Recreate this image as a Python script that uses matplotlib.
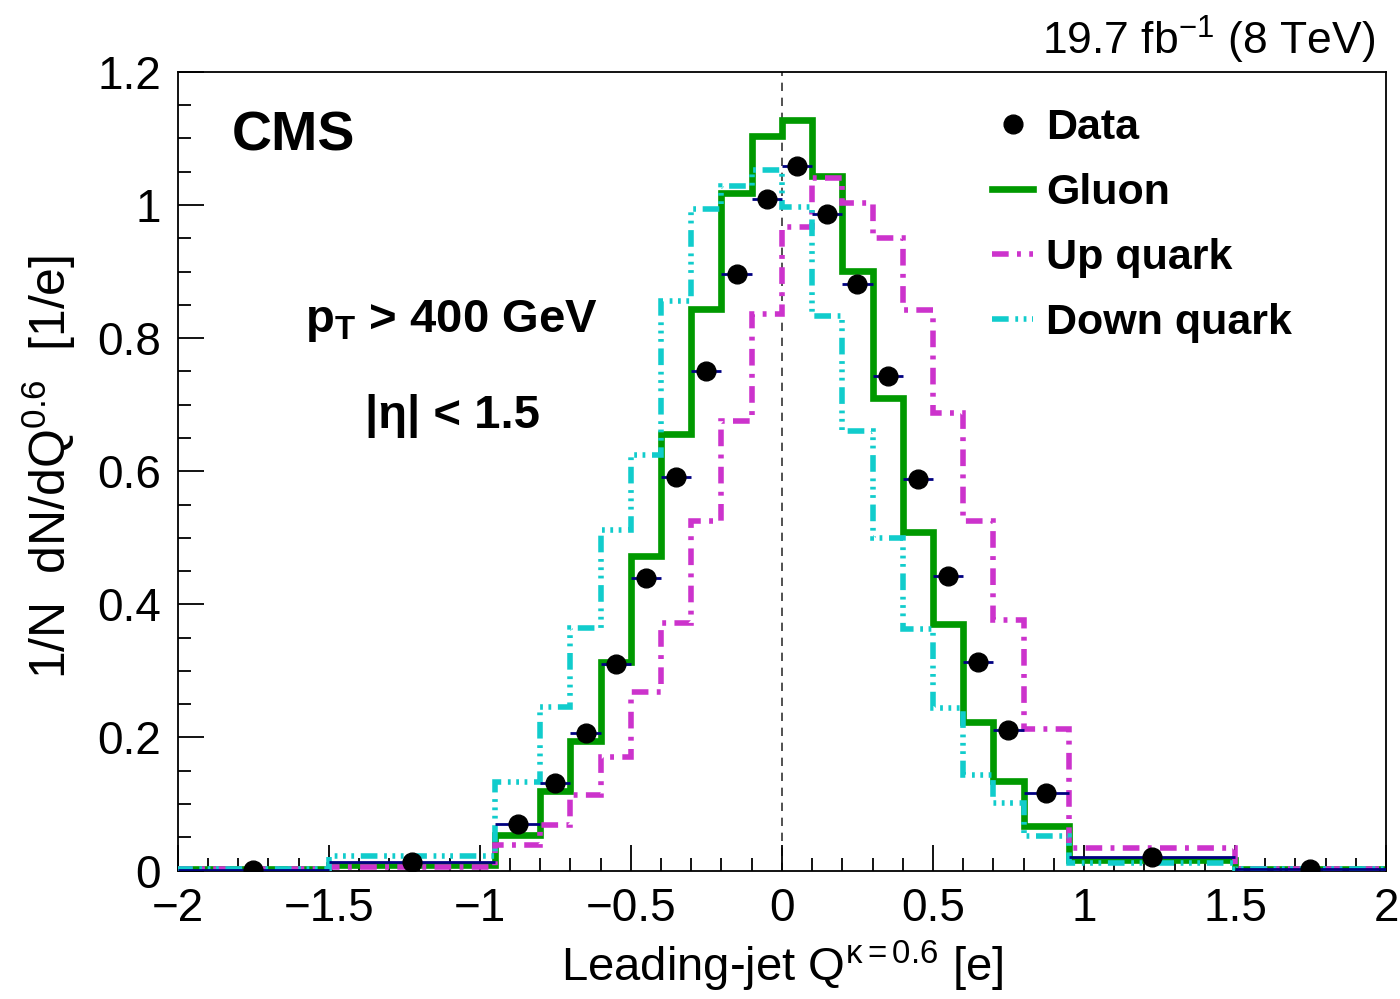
import numpy as np
import matplotlib
matplotlib.use("Agg")
import matplotlib.pyplot as plt
from matplotlib.lines import Line2D
from matplotlib.ticker import MultipleLocator

plt.rcParams['font.family'] = ['Liberation Sans', 'DejaVu Sans']
plt.rcParams['mathtext.fontset'] = 'custom'
plt.rcParams['mathtext.rm'] = 'Liberation Sans'
plt.rcParams['mathtext.it'] = 'Liberation Sans'
plt.rcParams['mathtext.bf'] = 'Liberation Sans:bold'

# bin edges (variable width)
edges = [-2, -1.5, -0.95, -0.8, -0.7, -0.6, -0.5, -0.4, -0.3, -0.2, -0.1, 0.0,
         0.1, 0.2, 0.3, 0.4, 0.5, 0.6, 0.7, 0.8, 0.95, 1.5, 2]

gluon = [0.002, 0.008, 0.054, 0.119, 0.194, 0.313, 0.473, 0.656, 0.844, 1.018, 1.104,
         1.128, 1.043, 0.901, 0.710, 0.508, 0.371, 0.223, 0.135, 0.067, 0.016, 0.002]
up_quark = [0.002, 0.005, 0.038, 0.069, 0.113, 0.170, 0.268, 0.372, 0.525, 0.676, 0.836,
            0.967, 1.040, 1.003, 0.950, 0.843, 0.688, 0.525, 0.377, 0.213, 0.034, 0.002]
down_quark = [0.002, 0.022, 0.133, 0.245, 0.365, 0.512, 0.625, 0.856, 0.994, 1.028, 1.053,
              0.997, 0.834, 0.661, 0.499, 0.363, 0.244, 0.144, 0.102, 0.052, 0.011, 0.002]

data_x = [-1.75, -1.225, -0.875, -0.75, -0.65, -0.55, -0.45, -0.35, -0.25, -0.15, -0.05,
          0.05, 0.15, 0.25, 0.35, 0.45, 0.55, 0.65, 0.75, 0.875, 1.225, 1.75]
data_y = [0.001, 0.013, 0.070, 0.132, 0.207, 0.311, 0.440, 0.591, 0.751, 0.896, 1.009,
          1.059, 0.986, 0.882, 0.743, 0.589, 0.443, 0.314, 0.211, 0.117, 0.021, 0.002]

green = '#009900'
magenta = '#cc33cc'
cyan = '#11cccc'
up_style = (0, (3, 1.5, 0.7, 1.5))
down_style = (0, (3, 1.2, 0.5, 1.0, 0.5, 1.0, 0.5, 1.2))

fig = plt.figure(figsize=(14, 9.99), dpi=100)
ax = fig.add_axes([0.127, 0.1286, 0.863, 0.7994])

ax.axvline(0, color='#333333', lw=1.2, ls=(0, (5, 4)), zorder=1)

ax.stairs(gluon, edges, color=green, lw=4.8, zorder=2)
ax.stairs(up_quark, edges, color=magenta, lw=4.0, ls=up_style, zorder=3)
ax.stairs(down_quark, edges, color=cyan, lw=4.0, ls=down_style, zorder=4)

xerr = np.diff(edges) / 2
centers = (np.array(edges[:-1]) + np.array(edges[1:])) / 2
ax.errorbar(centers, data_y, xerr=xerr, fmt='none', ecolor='#000080', elinewidth=2.0, zorder=5)
ax.plot(data_x, data_y, 'o', color='black', ms=13.5, zorder=6)

ax.set_xlim(-2, 2)
ax.set_ylim(0, 1.2)
ax.xaxis.set_minor_locator(MultipleLocator(0.1))
ax.yaxis.set_minor_locator(MultipleLocator(0.05))
ax.set_yticks([0, 0.2, 0.4, 0.6, 0.8, 1.0, 1.2])
ax.set_yticklabels(['0', '0.2', '0.4', '0.6', '0.8', '1', '1.2'])
ax.set_xticks([-2, -1.5, -1, -0.5, 0, 0.5, 1, 1.5, 2])
ax.set_xticklabels(['\u22122', '\u22121.5', '\u22121', '\u22120.5', '0', '0.5', '1', '1.5', '2'])
ax.tick_params(which='major', direction='in', length=19, width=1.3, labelsize=33)
ax.tick_params(which='minor', direction='in', length=9.5, width=1.3)
ax.tick_params(axis='y', pad=12)
ax.tick_params(axis='x', pad=12)
for s in ax.spines.values():
    s.set_linewidth(1.3)

ax.set_xlabel(r'Leading-jet Q$^{\mathrm{\kappa=0.6}}$ [e]', fontsize=34)
ax.xaxis.set_label_coords(0.5, -0.085)
ax.xaxis.label.set_va('top')
ax.set_ylabel(r'1/N  dN/dQ$^{0.6}$  [1/e]', fontsize=36)
ax.yaxis.set_label_coords(-0.083, 0.505)

ax.text(0.0447, 0.901, 'CMS', transform=ax.transAxes, fontsize=40,
        fontweight='bold', va='baseline', ha='left')
ax.text(0.105, 0.674, r'$\mathbf{p}_{\mathbf{T}}$ > 400 GeV', transform=ax.transAxes,
        fontsize=34, fontweight='bold', va='baseline', ha='left')
ax.text(0.155, 0.554, '|\u03b7| < 1.5', transform=ax.transAxes, fontsize=34,
        fontweight='bold', va='baseline', ha='left')
fig.text(0.982, 0.945, r'19.7 fb$^{-1}$ (8 TeV)', fontsize=32, ha='right', va='baseline')

handles = [
    Line2D([], [], ls='none', marker='o', color='black', ms=13.5),
    Line2D([], [], color=green, lw=4.8),
    Line2D([], [], color=magenta, lw=4.0, ls=up_style),
    Line2D([], [], color=cyan, lw=4.0, ls=down_style),
]
labels = ['Data', 'Gluon', 'Up quark', 'Down quark']
ax.legend(handles, labels, loc='upper left', bbox_to_anchor=(0.674, 0.955),
          frameon=False, prop={'size': 31, 'weight': 'bold'}, handlelength=0.95,
          handletextpad=0.3, labelspacing=0.58, borderpad=0, borderaxespad=0)

fig.savefig('out.png', dpi=100)
